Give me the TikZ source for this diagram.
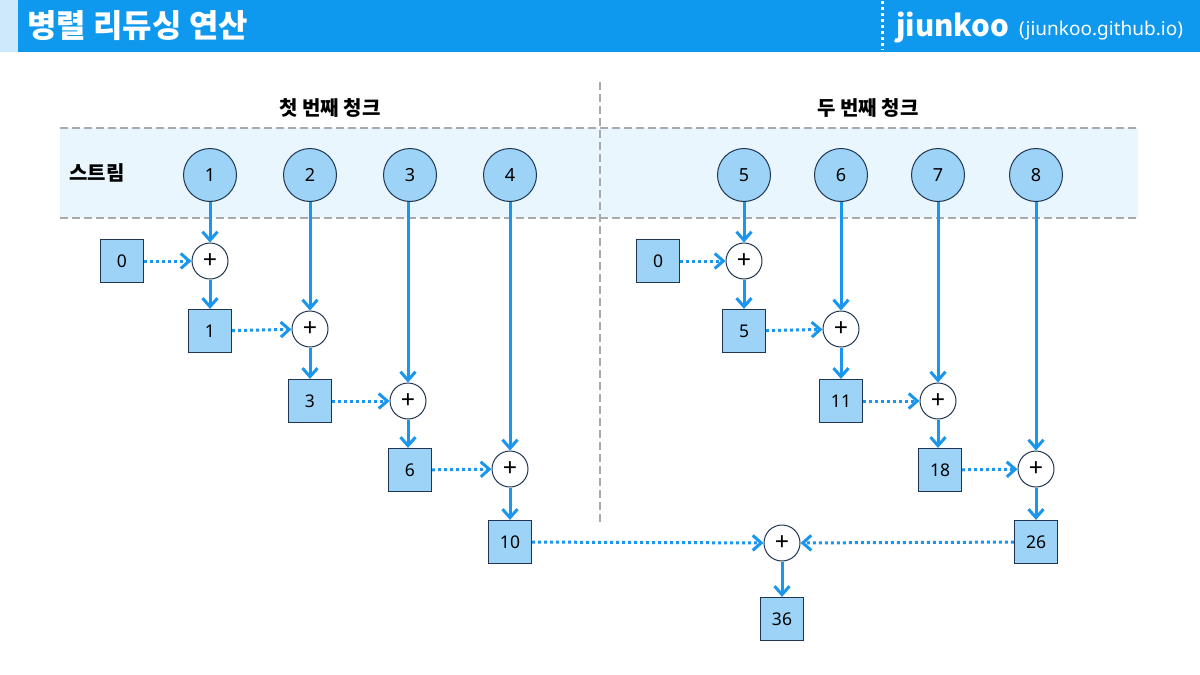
\documentclass[tikz,border=0pt]{standalone}
\usepackage{fontspec}
\setmainfont{Noto Sans}
\newfontfamily\kr{Noto Sans CJK KR}
\usetikzlibrary{arrows.meta}
\definecolor{hdr}{HTML}{0E98EE}
\definecolor{hdrlight}{HTML}{CDE9FB}
\definecolor{band}{HTML}{EAF6FD}
\definecolor{boxfill}{HTML}{9DD3F7}
\definecolor{navy}{HTML}{1F3552}
\definecolor{flowblue}{HTML}{1A96EE}
\definecolor{divgray}{HTML}{AAAAAA}
\begin{document}
\begin{tikzpicture}[x=1pt,y=-1pt,
  streamnode/.style={circle, draw=navy, line width=1pt, fill=boxfill, minimum size=53pt, inner sep=0pt, font=\fontsize{18}{20}\selectfont},
  sumnode/.style={circle, draw=navy, line width=1pt, fill=white, minimum size=36pt, inner sep=0pt, font=\fontsize{25}{26}\selectfont},
  valbox/.style={rectangle, draw=navy, line width=1.2pt, fill=boxfill, minimum size=43pt, inner sep=0pt, font=\fontsize{17.5}{19}\selectfont},
  flow/.style={draw=flowblue, line width=3pt, -{Straight Barb[length=8.5pt,width=15pt]}},
  dflow/.style={flow, dash pattern=on 3pt off 3pt},
  divline/.style={draw=divgray, line width=2pt, dash pattern=on 8pt off 4pt},
  chunk/.style={font=\kr\bfseries\fontsize{20}{22}\selectfont}
]
\useasboundingbox (0,0) rectangle (1200,675);
\fill[white] (0,0) rectangle (1200,675);
% header
\fill[hdrlight] (0,0) rectangle (18,52);
\fill[hdr] (18,0) rectangle (1200,52);
\node[anchor=west, text=white, inner sep=0pt, font=\kr\bfseries\fontsize{32}{34}\selectfont] (title) at (27,26) {병렬 리듀싱 연산};
\draw[white, line width=3pt, dash pattern=on 3pt off 3pt] (882,1) -- (882,50);
\node[anchor=base west, text=white, inner sep=0pt, font=\kr\bfseries\fontsize{29.5}{32}\selectfont] (brand) at (896,36) {jiunkoo};
\node[anchor=base west, text=white, inner sep=0pt, font=\fontsize{19}{20}\selectfont] (url) at (1019,35) {(jiunkoo.github.io)};
% band
\fill[band] (60,128) rectangle (1138,218);
\draw[divline] (60,128) -- (1138,128);
\draw[divline] (60,218) -- (1138,218);
\draw[divline] (600,82) -- (600,523);
% labels
\node[chunk] (c1) at (330,108) {첫 번째 청크};
\node[chunk] (c2) at (868,108) {두 번째 청크};
\node[chunk] (st) at (97,173) {스트림};
% stream nodes
\foreach \n/\x in {1/210,2/310,3/410,4/510,5/744,6/841,7/938,8/1036}
  \node[streamnode] (s\n) at (\x,175) {\n};
% first chunk
\node[valbox] (a0) at (122,261) {0};
\node[sumnode] (p1) at (210,261) {+};
\node[valbox] (a1) at (210,331) {1};
\node[sumnode] (p2) at (310,329) {+};
\node[valbox] (a2) at (310,401) {3};
\node[sumnode] (p3) at (408,401) {+};
\node[valbox] (a3) at (410,470) {6};
\node[sumnode] (p4) at (510,469) {+};
\node[valbox] (a4) at (510,542) {10};
% second chunk
\node[valbox] (b0) at (658,261) {0};
\node[sumnode] (q1) at (744,261) {+};
\node[valbox] (b1) at (744,331) {5};
\node[sumnode] (q2) at (841,329) {+};
\node[valbox] (b2) at (841,401) {11};
\node[sumnode] (q3) at (938,401) {+};
\node[valbox] (b3) at (940,470) {18};
\node[sumnode] (q4) at (1036,469) {+};
\node[valbox] (b4) at (1036,542) {26};
% final
\node[sumnode] (pf) at (782,543) {+};
\node[valbox] (res) at (782,619) {36};
% stream arrows
\draw[flow] (s1) -- (p1);
\draw[flow] (s2) -- (p2);
\draw[flow] (s3.south -| p3) -- (p3);
\draw[flow] (s4) -- (p4);
\draw[flow] (s5) -- (q1);
\draw[flow] (s6) -- (q2);
\draw[flow] (s7) -- (q3);
\draw[flow] (s8) -- (q4);
% accumulation
\draw[dflow] (a0) -- (p1);
\draw[flow] (p1) -- (a1);
\draw[dflow] (a1) -- (p2);
\draw[flow] (p2) -- (a2);
\draw[dflow] (a2) -- (p3);
\draw[flow] (p3) -- (a3.north -| p3);
\draw[dflow] (a3) -- (p4);
\draw[flow] (p4) -- (a4);
\draw[dflow] (b0) -- (q1);
\draw[flow] (q1) -- (b1);
\draw[dflow] (b1) -- (q2);
\draw[flow] (q2) -- (b2);
\draw[dflow] (b2) -- (q3);
\draw[flow] (q3) -- (b3.north -| q3);
\draw[dflow] (b3) -- (q4);
\draw[flow] (q4) -- (b4);
% combine
\draw[dflow] (a4) -- (pf);
\draw[dflow] (b4) -- (pf);
\draw[flow] (pf) -- (res);
\end{tikzpicture}
\end{document}
